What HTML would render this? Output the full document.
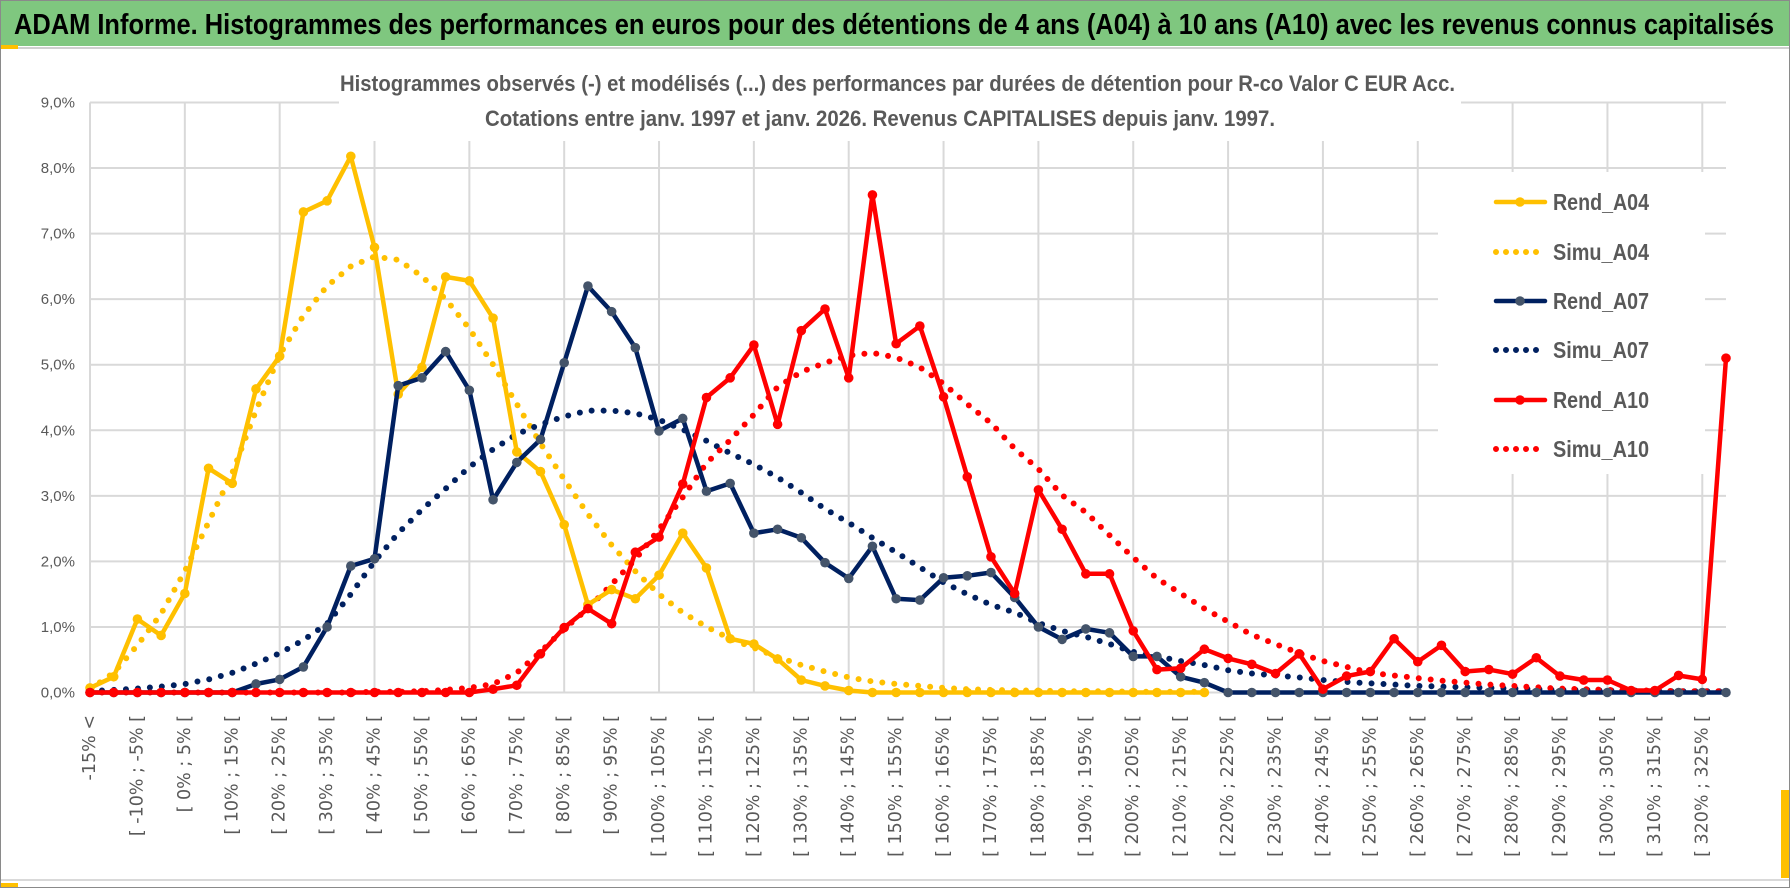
<!DOCTYPE html>
<html><head><meta charset="utf-8"><style>
html,body{margin:0;padding:0;background:#fff;}
svg{display:block;}
</style></head><body>
<svg id="chart" width="1790" height="888" viewBox="0 0 1790 888" xmlns="http://www.w3.org/2000/svg">
<rect x="0" y="0" width="1790" height="888" fill="#fff"/>
<rect x="1" y="1" width="1788" height="45" fill="#7fc77f"/>
<text x="14" y="34" font-family="'Liberation Sans Narrow','Liberation Sans',sans-serif" font-weight="bold" font-size="29" fill="#000" textLength="1760" lengthAdjust="spacingAndGlyphs">ADAM Informe. Histogrammes des performances en euros pour des détentions de 4 ans (A04) à 10 ans (A10) avec les revenus connus capitalisés</text>
<line x1="1" y1="48" x2="1789" y2="48" stroke="#d0d0d0" stroke-width="2"/>
<rect x="0" y="45" width="18" height="4" fill="#ffc000"/>
<line x1="1" y1="880" x2="1789" y2="880" stroke="#d9d9d9" stroke-width="2"/>
<rect x="0" y="883" width="18" height="5" fill="#ffc000"/>
<rect x="1781" y="790" width="8" height="88" fill="#ffc000"/>
<rect x="0.5" y="0.5" width="1789" height="887" fill="none" stroke="#8a8a8a" stroke-width="1"/>
<g id="grid"></g>
<rect x="339" y="96" width="1122" height="45" fill="#fff"/>
<rect x="1438" y="172" width="267" height="302" fill="#fff"/>
<text x="340" y="91" font-family="'Liberation Sans Narrow','Liberation Sans',sans-serif" font-weight="bold" font-size="22" fill="#595959" textLength="1115" lengthAdjust="spacingAndGlyphs">Histogrammes observés (-) et modélisés (...) des performances par durées de détention pour R-co Valor C EUR Acc.</text>
<text x="485" y="126" font-family="'Liberation Sans Narrow','Liberation Sans',sans-serif" font-weight="bold" font-size="22" fill="#595959" textLength="790" lengthAdjust="spacingAndGlyphs">Cotations entre janv. 1997 et janv. 2026. Revenus CAPITALISES depuis janv. 1997.</text>
<g id="axes"></g>
<g id="series"></g>
<g id="legend"></g>
</svg>
<script>
const categories = ["-15% <","[ -15% ; -10% [","[ -10% ; -5% [","[ -5% ; 0% [","[ 0% ; 5% [","[ 5% ; 10% [","[ 10% ; 15% [","[ 15% ; 20% [","[ 20% ; 25% [","[ 25% ; 30% [","[ 30% ; 35% [","[ 35% ; 40% [","[ 40% ; 45% [","[ 45% ; 50% [","[ 50% ; 55% [","[ 55% ; 60% [","[ 60% ; 65% [","[ 65% ; 70% [","[ 70% ; 75% [","[ 75% ; 80% [","[ 80% ; 85% [","[ 85% ; 90% [","[ 90% ; 95% [","[ 95% ; 100% [","[ 100% ; 105% [","[ 105% ; 110% [","[ 110% ; 115% [","[ 115% ; 120% [","[ 120% ; 125% [","[ 125% ; 130% [","[ 130% ; 135% [","[ 135% ; 140% [","[ 140% ; 145% [","[ 145% ; 150% [","[ 150% ; 155% [","[ 155% ; 160% [","[ 160% ; 165% [","[ 165% ; 170% [","[ 170% ; 175% [","[ 175% ; 180% [","[ 180% ; 185% [","[ 185% ; 190% [","[ 190% ; 195% [","[ 195% ; 200% [","[ 200% ; 205% [","[ 205% ; 210% [","[ 210% ; 215% [","[ 215% ; 220% [","[ 220% ; 225% [","[ 225% ; 230% [","[ 230% ; 235% [","[ 235% ; 240% [","[ 240% ; 245% [","[ 245% ; 250% [","[ 250% ; 255% [","[ 255% ; 260% [","[ 260% ; 265% [","[ 265% ; 270% [","[ 270% ; 275% [","[ 275% ; 280% [","[ 280% ; 285% [","[ 285% ; 290% [","[ 290% ; 295% [","[ 295% ; 300% [","[ 300% ; 305% [","[ 305% ; 310% [","[ 310% ; 315% [","[ 315% ; 320% [","[ 320% ; 325% [","> 325%"];
const yTicks = [0,1,2,3,4,5,6,7,8,9];
const yTickLabels = ["0,0%","1,0%","2,0%","3,0%","4,0%","5,0%","6,0%","7,0%","8,0%","9,0%"];
const rendA04 = [0.07,0.24,1.12,0.87,1.51,3.42,3.19,4.63,5.13,7.33,7.5,8.18,6.79,4.55,4.96,6.34,6.28,5.71,3.67,3.37,2.56,1.34,1.57,1.43,1.79,2.43,1.9,0.82,0.74,0.51,0.19,0.1,0.03,0,0,0,0,0,0,0,0,0,0,0,0,0,0,0];
const simuA04 = [0.05,0.3,0.72,1.2,1.85,2.6,3.35,4.3,5.15,5.75,6.2,6.5,6.65,6.6,6.35,6.0,5.55,5.0,4.4,3.8,3.25,2.72,2.25,1.85,1.5,1.22,1.0,0.82,0.68,0.54,0.42,0.32,0.23,0.17,0.13,0.1,0.07,0.05,0.04,0.03,0.03,0.02,0.02,0.02,0.01,0.01,0.01,0.01];
const rendA07 = [0,0,0,0,0,0,0,0.13,0.2,0.39,1.0,1.93,2.04,4.68,4.8,5.2,4.61,2.94,3.51,3.86,5.03,6.2,5.81,5.26,3.99,4.18,3.07,3.19,2.43,2.49,2.36,1.98,1.74,2.23,1.43,1.41,1.75,1.78,1.83,1.45,1.0,0.81,0.97,0.91,0.55,0.55,0.24,0.15,0,0,0,0,0,0,0,0,0,0,0,0,0,0,0,0,0,0,0,0,0,0];
const simuA07 = [0.02,0.04,0.06,0.09,0.13,0.2,0.3,0.44,0.6,0.8,1.05,1.5,2.0,2.43,2.79,3.11,3.44,3.71,3.94,4.09,4.21,4.3,4.3,4.26,4.16,4.01,3.84,3.65,3.48,3.28,3.05,2.8,2.59,2.36,2.14,1.91,1.68,1.5,1.34,1.22,1.06,0.94,0.85,0.74,0.62,0.55,0.48,0.42,0.34,0.29,0.26,0.23,0.19,0.16,0.14,0.12,0.1,0.09,0.08,0.07,0.06,0.05,0.04,0.04,0.03,0.03,0.02,0.02,0.02,0.02];
const rendA10 = [0,0,0,0,0,0,0,0,0,0,0,0,0,0,0,0,0,0.05,0.11,0.59,0.99,1.28,1.05,2.14,2.37,3.18,4.5,4.8,5.3,4.09,5.52,5.85,4.8,7.59,5.32,5.59,4.51,3.29,2.07,1.51,3.09,2.49,1.81,1.81,0.94,0.35,0.37,0.66,0.52,0.43,0.29,0.59,0.05,0.25,0.32,0.82,0.47,0.72,0.32,0.35,0.28,0.53,0.25,0.19,0.19,0.03,0.03,0.26,0.2,5.1];
const simuA10 = [0,0,0,0,0,0,0,0,0,0,0,0,0.01,0.01,0.02,0.04,0.07,0.13,0.3,0.62,0.97,1.28,1.65,2.03,2.49,2.98,3.5,3.85,4.24,4.66,4.89,5.03,5.14,5.18,5.11,4.96,4.71,4.4,4.11,3.72,3.41,3.01,2.75,2.4,2.06,1.74,1.51,1.28,1.08,0.88,0.74,0.6,0.48,0.39,0.3,0.26,0.22,0.18,0.15,0.12,0.1,0.08,0.06,0.05,0.04,0.03,0.03,0.02,0.02,0.02];

const NS="http://www.w3.org/2000/svg";
const X0=90, STEP=23.71, Y0=692.5, YTOP=102.5, YMAX=9;
function xs(i){return X0+i*STEP;}
function ys(v){return Y0-(v/YMAX)*(Y0-YTOP);}
function mk(tag,attrs,parent){const e=document.createElementNS(NS,tag);for(const k in attrs)e.setAttribute(k,attrs[k]);parent.appendChild(e);return e;}
const grid=document.getElementById('grid'), axes=document.getElementById('axes'), ser=document.getElementById('series'), leg=document.getElementById('legend');
const xEnd=xs(categories.length-1);
yTicks.forEach((t,k)=>{
  const l=mk('line',{x1:X0,x2:xEnd,y1:ys(t),y2:ys(t),stroke:'#d9d9d9','stroke-width':2},grid);
  
  
  const tx=mk('text',{x:75,y:ys(t)+5,'text-anchor':'end','font-family':"'Liberation Sans',sans-serif",'font-size':15,fill:'#595959'},axes);
  tx.textContent=yTickLabels[k];
  
  
});
for(let i=0;i<categories.length;i+=4){
  const l=mk('line',{x1:xs(i),x2:xs(i),y1:YTOP,y2:Y0,stroke:'#d9d9d9','stroke-width':2},grid);
  
  
}
for(let i=0;i<categories.length-1;i+=2){
  const x=xs(i), y=715;
  const tx=mk('text',{x:x,y:y,transform:'rotate(-90 '+x+' '+y+')','text-anchor':'end','dominant-baseline':'central','font-family':"'DejaVu Sans',sans-serif",'font-size':17.5,fill:'#595959'},axes);
  tx.textContent=categories[i];
  
  
}
function drawLine(vals,color,dotted,markerColor,name){
  const pts=vals.map((v,i)=>xs(i).toFixed(1)+','+ys(v).toFixed(1)).join(' ');
  const attrs={points:pts,fill:'none',stroke:color,'stroke-width':dotted?6:4.5,'stroke-linejoin':'round','stroke-linecap':'round'};
  if(dotted){attrs['stroke-dasharray']='0 12';}
  const pl=mk('polyline',attrs,ser);
  
  
  if(!dotted){
    vals.forEach((v,i)=>{
      const c=mk('circle',{cx:xs(i),cy:ys(v),r:4.8,fill:markerColor},ser);
      
      
    });
  }
}
drawLine(simuA04,'#ffc000',true,null,'simu-a04');
drawLine(simuA07,'#002060',true,null,'simu-a07');
drawLine(simuA10,'#ff0000',true,null,'simu-a10');
drawLine(rendA04,'#ffc000',false,'#ffc000','rend-a04');
drawLine(rendA07,'#002060',false,'#44546a','rend-a07');
drawLine(rendA10,'#ff0000',false,'#ff0000','rend-a10');
const legendNames=["Rend_A04","Simu_A04","Rend_A07","Simu_A07","Rend_A10","Simu_A10"];
const legendColors=["#ffc000","#ffc000","#002060","#002060","#ff0000","#ff0000"];
const legendY=[202,252,301,350,400,449];
legendNames.forEach((n,k)=>{
  const y=legendY[k]; const dotted=k%2===1;
  const g=mk('g',{},leg);
  
  
  const a={x1:1496,x2:1545,y1:y,y2:y,stroke:legendColors[k],'stroke-width':4.5,'stroke-linecap':'round'};
  if(dotted){a['stroke-dasharray']='0 10';a['stroke-width']=6;a.x2=1540;}
  mk('line',a,g);
  if(!dotted){mk('circle',{cx:1520,cy:y,r:4.8,fill:k===2?'#44546a':legendColors[k]},g);}
  const t=mk('text',{x:1553,y:y+8,'font-family':"'Liberation Sans Narrow','Liberation Sans',sans-serif",'font-weight':'bold','font-size':23,fill:'#595959',textLength:96,lengthAdjust:'spacingAndGlyphs'},g);
  t.textContent=n;
});
</script>
</body></html>
